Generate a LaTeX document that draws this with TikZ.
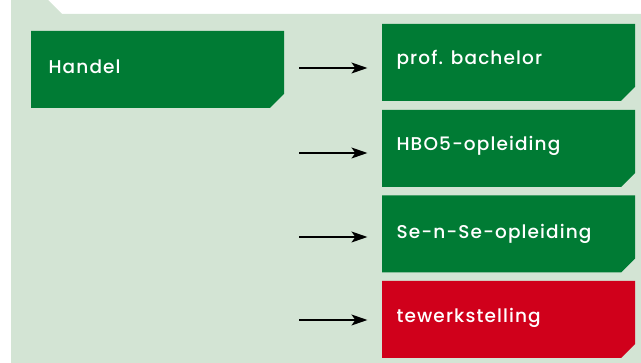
\documentclass[tikz,border=0pt]{standalone}
\usepackage{fontspec}
\setmainfont{Poppins}[UprightFont=* Medium, LetterSpace=6]
\usetikzlibrary{arrows.meta}
\tikzstyle{every path}=[line width=1.2pt]
\definecolor{backdrop}{RGB}{211,228,212}
\definecolor{study}{RGB}{0,123,52}
\definecolor{work}{RGB}{208,0,27}
\tikzset{box/.style={minimum width=253pt, minimum height=77pt, inner sep=0pt,
    path picture={\fill[#1] (path picture bounding box.north west)
        -- (path picture bounding box.north east)
        -- ([yshift=14pt]path picture bounding box.south east)
        -- ([xshift=-14pt]path picture bounding box.south east)
        -- (path picture bounding box.south west) -- cycle;}}}
\tikzstyle{label}=[anchor=base west, inner sep=0pt, text=white, font=\fontsize{18.5}{21}\selectfont]
\tikzstyle{link}=[-{Stealth[length=16pt, width=11pt, inset=4pt]}, shorten >=14pt]

\begin{document}
\begin{tikzpicture}[x=1pt, y=-1pt]
            \useasboundingbox (0,0) rectangle (641,363);
            \fill[backdrop] (11,363) -- (11,0) -- (48,0) -- (62,14)
                -- (641,14) -- (641,363) -- cycle;

            \node[box=study] (handel) at (157.5,69.5) {};
            \node[label] (handeltext) at (48,74) {Handel};

            \node[box=study] (bachelor) at (508.5,62.5) {};
            \node[label] (bachelortext) at (396,65) {prof. bachelor};
            \node[box=study] (hbo) at (508.5,148.5) {};
            \node[label] (hbotext) at (396,151) {HBO5-opleiding};
            \node[box=study] (sense) at (508.5,234) {};
            \node[label] (sensetext) at (396,239) {Se-n-Se-opleiding};
            \node[box=work] (werk) at (508.5,319.5) {};
            \node[label] (werktext) at (396,323) {tewerkstelling};

            \coordinate (from1) at (299,68);
            \coordinate (from2) at (299,153);
            \coordinate (from3) at (299,237);
            \coordinate (from4) at (299,320);
            \draw[link] (from1) -- (from1 -| bachelor.west);
            \draw[link] (from2) -- (from2 -| hbo.west);
            \draw[link] (from3) -- (from3 -| sense.west);
            \draw[link] (from4) -- (from4 -| werk.west);
        \end{tikzpicture}
\end{document}
